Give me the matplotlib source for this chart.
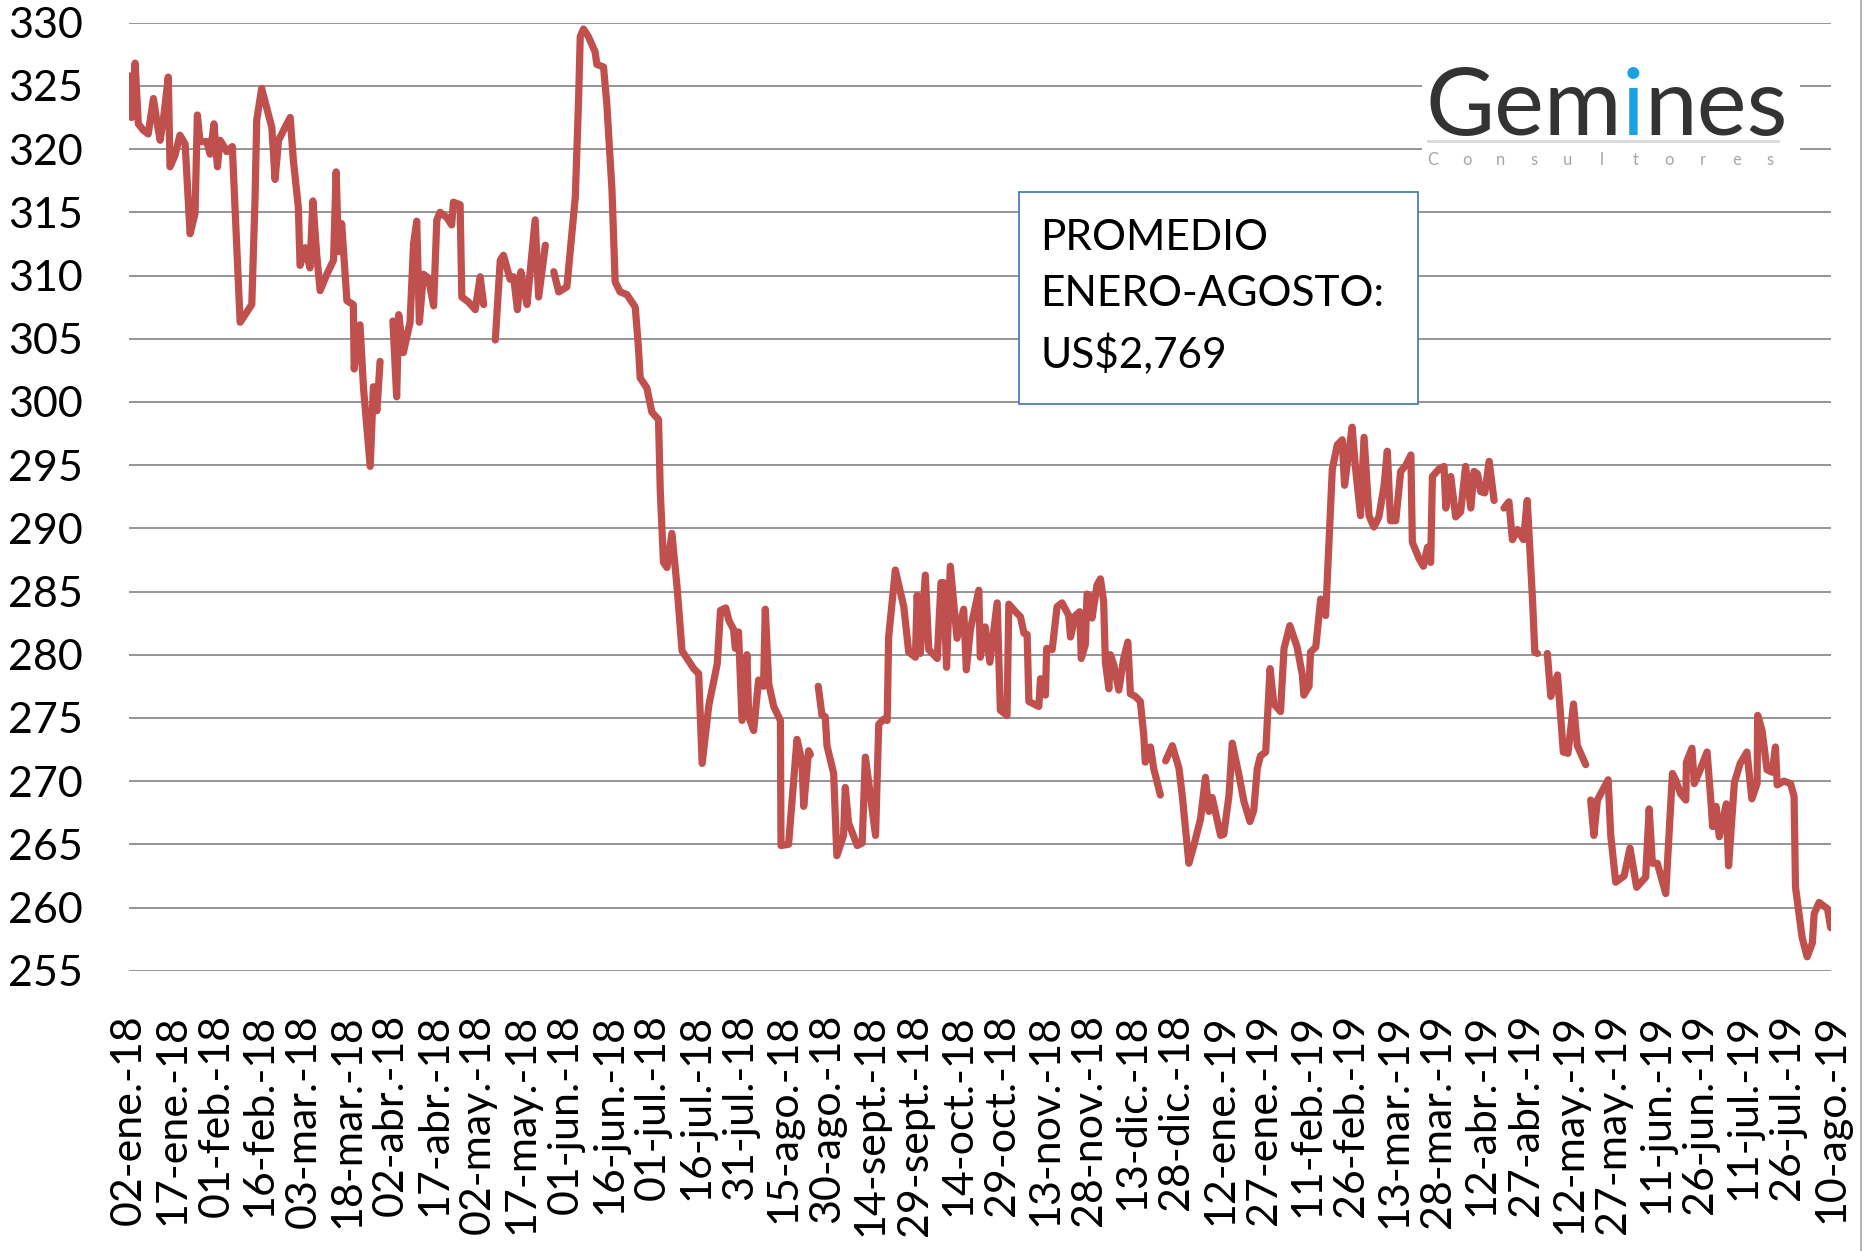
import numpy as np
import pandas as pd
import matplotlib
matplotlib.use("Agg")
import matplotlib.pyplot as plt
import matplotlib.dates as mdates
from matplotlib.patches import Rectangle
from matplotlib.lines import Line2D

plt.rcParams['font.family'] = ['Lato', 'DejaVu Sans']

# Copper price (US cents/lb).
# day offsets are calendar days after 02-ene-2018, NaN marks a break in the line
start_date = '2018-01-02'
day_offset = [
    0.0, 0.9, 2.1, 3.2, 4.9, 6.6, 8.4, 9.5, 10.7, 11.8, 13.5, 14.1, 15.8, 17.5, 19.3,
    21.0, 22.7, 23.5, 24.4, 26.7, 27.9, 29.2, 30.4, 31.3, 32.4, 33.6, 35.5, 38.2, 42.2,
    43.3, 43.9, 45.6, 47.3, 49.1, 50.2, 51.4, 53.6, 55.4, 56.5, 58.2, 58.8, 60.5, 62.2,
    63.2, 64.5, 65.7, 68.0, 70.3, 71.2, 72.0, 73.1, 74.9, 77.1, 77.4, 79.4, 80.6, 82.9,
    84.0, 85.2, 86.3, 88.5, 90.7, 92.0, 92.7, 94.3, 96.6, 97.8, 98.9, 99.8, 101.2, 102.9,
    104.7, 105.8, 106.9, 109.2, 110.9, 111.5, 113.8, 114.4, 116.7, 119.0, 120.7, 121.9,
    124.0, 125.9, 127.6, 128.7, 131.0, 132.2, 133.5, 134.7, 135.6, 136.8, 139.6, 140.8,
    143.1, 144.5, 146.0, 147.7, 150.5, 153.4, 154.5, 155.1, 156.2, 157.9, 160.2, 160.8,
    163.1, 164.2, 166.0, 167.1, 168.8, 171.1, 174.0, 175.1, 175.7, 178.0, 179.7, 182.0,
    182.6, 183.7, 184.9, 186.6, 188.4, 190.1, 191.8, 194.1, 195.8, 197.0, 199.3, 202.2,
    203.3, 205.1, 206.2, 207.8, 208.4, 209.5, 210.7, 212.4, 213.0, 214.7, 216.4, 218.1,
    218.7, 219.9, 221.6, 223.9, 224.1, 226.7, 229.6, 231.3, 231.9, 233.6, 234.2, 235.5,
    236.9, 238.2, 239.3, 239.9, 242.2, 243.3, 245.6, 246.2, 247.3, 250.3, 252.0, 253.1,
    254.3, 256.6, 257.7, 259.4, 260.6, 261.1, 263.4, 266.3, 268.0, 270.3, 270.9, 272.0,
    273.7, 274.9, 277.8, 279.1, 280.0, 281.0, 282.3, 284.6, 286.9, 287.8, 289.2, 292.1,
    292.6, 294.3, 295.9, 298.4, 299.5, 301.8, 302.4, 304.7, 306.4, 307.6, 308.7, 309.3,
    312.7, 313.3, 315.0, 315.4, 317.3, 319.0, 320.7, 323.0, 323.6, 325.3, 326.8, 327.3,
    328.7, 329.3, 330.4, 331.0, 332.7, 333.9, 335.0, 335.6, 336.8, 337.3, 338.5, 340.2,
    341.9, 343.3, 344.2, 345.9, 347.6, 348.8, 349.3, 351.1, 352.2, 354.5, 355.5, 356.3,
    358.6, 360.9, 362.0, 364.3, 366.0, 368.3, 370.0, 371.2, 372.3, 375.2, 376.3, 378.1,
    379.2, 381.5, 383.2, 385.3, 386.6, 387.8, 388.9, 390.7, 392.2, 393.5, 395.8, 397.0,
    399.0, 401.5, 403.3, 403.8, 405.6, 406.1, 407.9, 409.6, 411.3, 413.6, 415.3, 417.0,
    417.8, 419.3, 420.4, 421.6, 423.3, 424.5, 426.2, 427.9, 429.6, 431.4, 432.5, 433.6,
    435.4, 437.1, 438.9, 440.6, 441.1, 443.4, 444.9, 446.3, 447.4, 448.0, 450.3, 452.0,
    452.6, 454.3, 456.0, 457.7, 459.4, 461.2, 462.3, 463.5, 464.6, 466.0, 467.5, 469.2,
    471.0, 472.6, 474.3, 475.5, 477.2, 479.3, 480.6, 482.4, 483.2, 484.1, 485.8, 487.5,
    488.7, 491.0, 493.0, 494.6, 496.5, 497.8, 500.7, 501.6, 502.4, 503.5, 504.7, 508.4,
    509.3, 511.0, 513.9, 515.9, 518.2, 521.3, 522.5, 523.6, 525.3, 528.2, 530.5, 531.6,
    533.3, 535.1, 535.3, 537.2, 538.0, 539.7, 542.4, 543.8, 544.3, 545.5, 546.6, 549.0,
    549.8, 551.8, 553.8, 556.1, 557.8, 559.6, 559.8, 561.3, 563.0, 564.8, 565.9, 566.5,
    568.8, 571.1, 572.3, 572.8, 575.1, 576.8, 578.6, 579.2, 580.9, 583.8, 584.9,
]
copper = [
    325.8, 322.5, 326.8, 322.0, 321.5, 321.2, 324.0, 322.3, 320.7, 322.3, 325.7, 318.6, 319.5, 321.1, 320.4,
    313.3, 314.9, 322.7, 320.6, 320.6, 319.6, 322.0, 318.6, 320.7, 320.3, 319.8, 320.2, 306.3, 307.7,
    315.9, 322.3, 324.8, 323.3, 321.7, 317.6, 320.7, 321.7, 322.5, 319.1, 315.4, 310.8, 312.2, 310.6,
    315.9, 311.7, 308.8, 310.1, 311.2, 318.2, 311.9, 314.1, 308.0, 307.7, 302.6, 306.1, 301.1, 294.9,
    301.2, 299.3, 303.2, np.nan, 306.4, 300.4, 306.9, 303.9, 306.3, 312.5, 314.3, 306.3, 310.1, 309.8,
    307.6, 314.4, 315.0, 314.6, 314.0, 315.8, 315.6, 308.3, 307.9, 307.3, 309.9, 307.7,
    np.nan, 304.9, 311.2, 311.6, 309.7, 309.9, 307.3, 310.3, 309.1, 307.7, 314.4, 308.3,
    312.4, np.nan, 310.3, 308.7, 309.1, 316.2, 323.7, 328.9, 329.5, 328.9, 327.7, 326.7,
    326.5, 323.7, 316.8, 309.5, 308.7, 308.5, 307.5, 304.3, 301.9, 301.1, 299.2, 298.6,
    293.0, 287.3, 286.9, 289.6, 285.3, 280.3, 279.7, 278.9, 278.5, 271.4, 276.0, 279.3,
    283.5, 283.7, 282.7, 282.0, 280.5, 281.8, 274.8, 280.0, 275.1, 274.0, 278.0, 277.5,
    283.6, 277.7, 275.9, 274.8, 264.9, 265.0, 273.3, 271.6, 268.0, 272.4, 272.1, np.nan,
    277.5, 275.2, 275.1, 272.8, 270.6, 264.1, 265.7, 269.5, 266.7, 264.9, 265.1, 271.9,
    269.8, 265.7, 274.5, 274.9, 274.8, 281.4, 286.7, 283.8, 280.2, 279.8, 284.7, 280.1,
    286.3, 280.4, 279.7, 285.7, 285.7, 279.0, 287.0, 281.3, 283.6, 278.8, 282.0, 285.1,
    279.8, 282.2, 279.4, 284.1, 275.6, 275.2, 284.0, 283.4, 283.0, 281.7, 281.6, 276.3,
    275.9, 278.1, 276.8, 280.5, 280.4, 283.8, 284.1, 283.1, 281.4, 283.1, 283.4, 279.7,
    280.8, 284.8, 284.6, 282.9, 285.5, 286.0, 284.2, 279.4, 277.3, 280.0, 279.2, 277.2,
    279.7, 281.0, 276.9, 276.7, 276.3, 273.6, 271.5, 272.7, 271.0, 268.9, np.nan, 271.6,
    272.8, 271.0, 268.9, 263.5, 264.9, 267.0, 270.3, 267.6, 268.7, 265.7, 265.8, 268.9,
    273.0, 270.5, 268.4, 266.8, 267.7, 271.0, 272.0, 272.3, 278.9, 276.1, 275.5, 280.5,
    282.3, 280.6, 278.4, 276.8, 277.5, 280.2, 280.6, 284.4, 283.1, 294.7, 296.6, 297.0,
    293.4, 296.1, 298.0, 294.7, 291.0, 297.2, 291.0, 290.1, 290.9, 293.4, 296.1, 290.6,
    290.6, 294.5, 295.0, 295.8, 288.9, 287.6, 287.0, 288.5, 287.3, 294.1, 294.7, 294.9,
    291.6, 294.1, 290.9, 291.3, 294.9, 291.6, 294.5, 294.3, 292.9, 292.8, 295.3, 292.2,
    np.nan, 291.6, 292.1, 289.1, 289.9, 289.1, 292.2, 284.4, 280.2, 280.1, np.nan, 280.1,
    276.7, 278.4, 272.3, 272.2, 276.1, 272.8, 271.3, np.nan, 268.5, 265.7, 268.5, 270.1,
    265.7, 262.0, 262.5, 264.7, 261.6, 262.4, 267.8, 263.5, 263.5, 261.1, 270.6, 270.1,
    269.0, 268.5, 271.5, 272.6, 269.8, 270.7, 272.3, 268.2, 266.4, 268.0, 265.6, 268.2,
    263.3, 269.9, 271.4, 272.3, 268.6, 269.8, 275.2, 274.0, 270.9, 270.7, 272.7, 269.7,
    270.0, 269.8, 268.8, 261.6, 257.6, 256.1, 257.2, 259.5, 260.4, 259.9, 258.4,
]

tick_labels = [
    '02-ene.-18', '17-ene.-18', '01-feb.-18', '16-feb.-18', '03-mar.-18', '18-mar.-18',
    '02-abr.-18', '17-abr.-18', '02-may.-18', '17-may.-18', '01-jun.-18', '16-jun.-18',
    '01-jul.-18', '16-jul.-18', '31-jul.-18', '15-ago.-18', '30-ago.-18', '14-sept.-18',
    '29-sept.-18', '14-oct.-18', '29-oct.-18', '13-nov.-18', '28-nov.-18', '13-dic.-18',
    '28-dic.-18', '12-ene.-19', '27-ene.-19', '11-feb.-19', '26-feb.-19', '13-mar.-19',
    '28-mar.-19', '12-abr.-19', '27-abr.-19', '12-may.-19', '27-may.-19', '11-jun.-19',
    '26-jun.-19', '11-jul.-19', '26-jul.-19', '10-ago.-19',
]
y_ticks = list(range(255, 331, 5))
box_text = 'PROMEDIO\nENERO-AGOSTO:\nUS$2,769'

W, H = 1862, 1251
fig = plt.figure(figsize=(W / 100, H / 100), dpi=100)


def fx(px):
    return px / W


def fy(py):
    return 1 - py / H


ax = fig.add_axes([fx(129), fy(970.7), fx(1831) - fx(129), fy(22.7) - fy(970.7)])

t0 = pd.Timestamp(start_date)
dates = t0 + pd.to_timedelta(day_offset, unit='D')
x = mdates.date2num(dates.to_pydatetime())
ax.plot(x, copper, color='#C0504D', lw=5.2, solid_joinstyle='round',
        solid_capstyle='round', zorder=3)

tick_dates = pd.date_range(start_date, periods=len(tick_labels), freq='15D')
ax.set_xticks(mdates.date2num(tick_dates.to_pydatetime()))
ax.set_xticklabels(tick_labels, rotation=90)
ax.set_xlim(mdates.date2num(t0.to_pydatetime()),
            mdates.date2num(tick_dates[-1].to_pydatetime()))

ax.set_ylim(255, 330)
ax.set_yticks(y_ticks)
ax.yaxis.grid(True, color='#8C8C8C', lw=1.3)
ax.set_axisbelow(True)
for s in ax.spines.values():
    s.set_visible(False)
ax.tick_params(axis='y', length=0, pad=33, labelsize=31)
ax.tick_params(axis='x', length=0, pad=31, labelsize=31)

# average box
fig.patches.append(Rectangle((fx(1019), fy(404)), fx(1418) - fx(1019), fy(192) - fy(404),
                             transform=fig.transFigure, facecolor='white',
                             edgecolor='#4A7EBB', lw=1.3, zorder=5))
fig.text(fx(1040), fy(297), box_text, fontsize=30.5, va='center', ha='left',
         linespacing=1.6, color='black', zorder=6)

# logo
fig.patches.append(Rectangle((fx(1422), fy(170)), fx(1800) - fx(1422), fy(50) - fy(170),
                             transform=fig.transFigure, facecolor='white',
                             edgecolor='none', zorder=5))
fig.canvas.draw()
renderer = fig.canvas.get_renderer()
xpos = 1425
logo_fs = 68
for part, col in [('Gem', '#333333'), ('i', '#1BA1E2'), ('nes', '#333333')]:
    t = fig.text(fx(xpos), fy(135), part, fontsize=logo_fs, color=col,
                 ha='left', va='baseline', zorder=6)
    xpos += t.get_window_extent(renderer).width
fig.lines.append(Line2D([fx(1428), fx(1778)], [fy(141), fy(141)], transform=fig.transFigure,
                        color='#DADADA', lw=2, zorder=6))
for ch, px in zip('Consultores', np.linspace(1433, 1770, 11)):
    fig.text(fx(px), fy(165), ch, fontsize=12, color='#A6A6A6', ha='center',
             va='baseline', zorder=6)

# right border of the chart area
fig.lines.append(Line2D([fx(1860.5), fx(1860.5)], [0, 1], transform=fig.transFigure,
                        color='#A6A6A6', lw=1.2))

fig.savefig('out.png', dpi=100, facecolor='white')
